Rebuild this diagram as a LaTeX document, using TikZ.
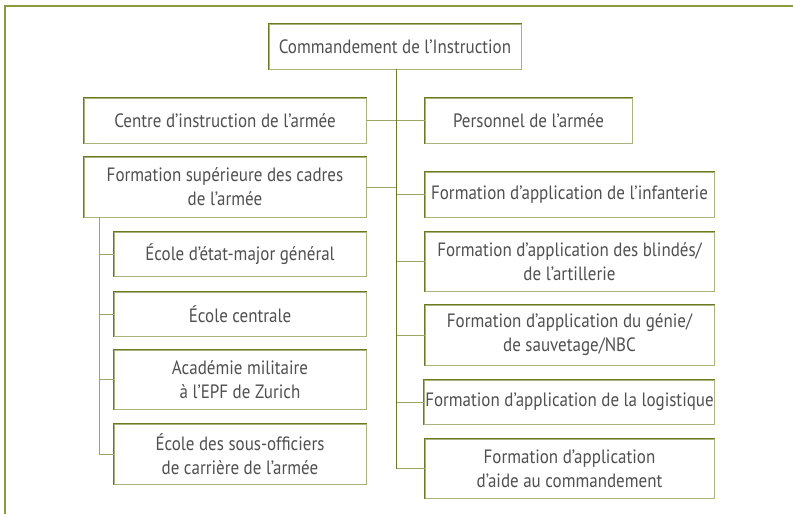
\documentclass[tikz,border=0pt]{standalone}
\usepackage{fontspec}
\setmainfont[FakeStretch=0.88]{PT Sans}
\definecolor{framec}{HTML}{8C9A3C}
\definecolor{boxdark}{HTML}{6B7A23}
\definecolor{boxlight}{HTML}{A9B37C}
\definecolor{linelight}{HTML}{9AA566}
\definecolor{txt}{HTML}{505050}
\tikzset{
  orgbox/.style={draw=boxlight, line width=1pt, fill=white, inner sep=1pt,
    align=center, text=txt, font=\fontsize{19.3}{24}\selectfont, minimum height=#1},
  orgbox/.default=45pt,
  trunk/.style={draw=boxdark, line width=1pt},
  branch/.style={draw=linelight, line width=1pt}
}
\begin{document}
\begin{tikzpicture}[x=1pt,y=-1pt]
\useasboundingbox (0,0) rectangle (793,514);
\draw[framec, line width=2pt] (5,514) -- (5,6) -- (793,6);
% boxes
\node[orgbox=45pt, minimum width=252pt] (top) at (395,46.5) {Commandement de l’Instruction};
\node[orgbox=45pt, minimum width=282pt] (centre) at (225,120.5) {Centre d’instruction de l’armée};
\node[orgbox=45pt, minimum width=207pt] (pers) at (528.5,120.5) {Personnel de l’armée};
\node[orgbox=60pt, minimum width=282pt] (fsup) at (225,187) {Formation supérieure des cadres\\de l’armée};
\node[orgbox=45pt, minimum width=289pt] (inf) at (569.5,194.5) {Formation d’application de l’infanterie};
\node[orgbox=44pt, minimum width=252pt] (etat) at (240,254) {École d’état-major général};
\node[orgbox=44pt, minimum width=252pt] (ecent) at (240,314) {École centrale};
\node[orgbox=59pt, minimum width=252pt] (acad) at (240,379.5) {Académie militaire\\à l’EPF de Zurich};
\node[orgbox=60pt, minimum width=252pt] (sous) at (240,454) {École des sous-officiers\\de carrière de l’armée};
\node[orgbox=59pt, minimum width=289pt] (blind) at (569.5,261.5) {Formation d’application des blindés/\\de l’artillerie};
\node[orgbox=60pt, minimum width=289pt] (genie) at (569.5,335) {Formation d’application du génie/\\de sauvetage/NBC};
\node[orgbox=44pt, minimum width=289pt] (logi) at (569.5,402) {Formation d’application de la logistique};
\node[orgbox=59pt, minimum width=289pt] (aide) at (569.5,468.5) {Formation d’application\\d’aide au commandement};
% darker top/left edges
\foreach \n in {top,centre,pers,fsup,inf,etat,ecent,acad,sous,blind,genie,logi,aide}
  \draw[boxdark, line width=1pt] (\n.south west) -- (\n.north west) -- (\n.north east);
% connectors
\coordinate (tx) at (396,69);
\coordinate (sx) at (99,217);
\foreach \n in {centre,fsup}
  \draw[branch] (\n.east) -- (\n.east -| tx);
\foreach \n in {pers,inf,blind,genie,logi,aide}
  \draw[branch] (\n.west) -- (\n.west -| tx);
\foreach \n in {etat,ecent,acad,sous}
  \draw[branch] (\n.west) -- (\n.west -| sx);
\draw[trunk] (tx) -- (tx |- aide.west);
\draw[branch] (sx) -- (sx |- sous.west);
\end{tikzpicture}
\end{document}
